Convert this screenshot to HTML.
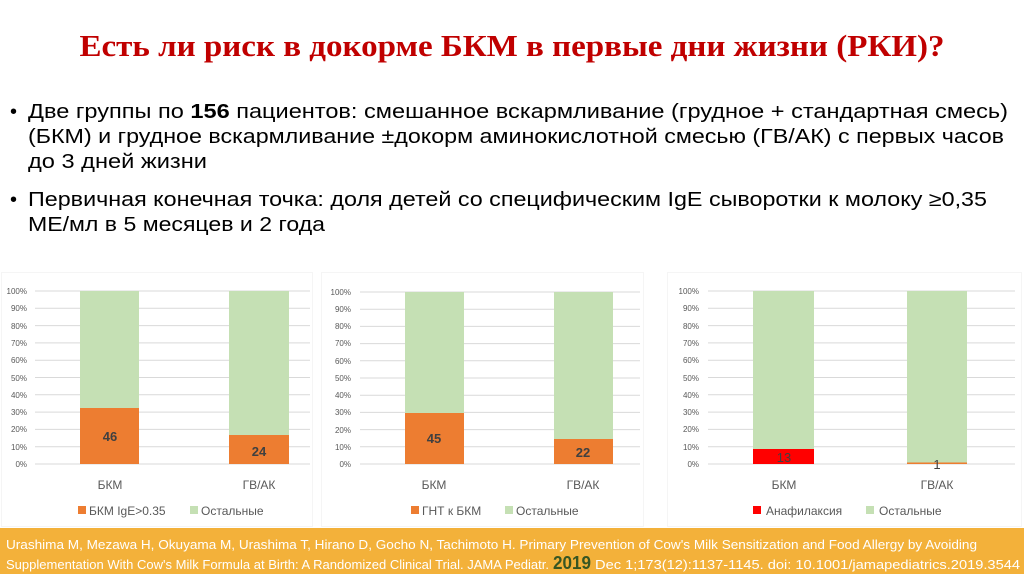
<!DOCTYPE html>
<html><head><meta charset="utf-8"><style>
html,body{margin:0;padding:0;background:#fff;width:1024px;height:574px;overflow:hidden}
svg{display:block}
.ax{font-family:"Liberation Sans",sans-serif;font-size:8px;fill:#595959}
.cat{font-family:"Liberation Sans",sans-serif;font-size:12px;fill:#595959}
.leg{font-family:"Liberation Sans",sans-serif;font-size:12px;fill:#595959}
.val{font-family:"Liberation Sans",sans-serif;font-size:13px;font-weight:bold;fill:#404040}
.body{font-family:"Liberation Sans",sans-serif;font-size:20px;fill:#000}
.ft{font-family:"Liberation Sans Narrow","Liberation Sans",sans-serif;font-size:13px;fill:#fff}
</style></head><body>
<svg width="1024" height="574" viewBox="0 0 1024 574" xmlns="http://www.w3.org/2000/svg">
<text x="512" y="56" text-anchor="middle" textLength="865" lengthAdjust="spacingAndGlyphs" font-family="Liberation Serif,serif" font-size="31" font-weight="bold" fill="#c00000">Есть ли риск в докорме БКМ в первые дни жизни (РКИ)?</text>
<g class="body">
<text x="10" y="118">•</text><text x="28" y="118" textLength="980" lengthAdjust="spacingAndGlyphs">Две группы по <tspan font-weight="bold">156</tspan> пациентов: смешанное вскармливание (грудное + стандартная смесь)</text>
<text x="28" y="143" textLength="976" lengthAdjust="spacingAndGlyphs">(БКМ) и грудное вскармливание ±докорм аминокислотной смесью (ГВ/АК) с первых часов</text>
<text x="28" y="168" textLength="179" lengthAdjust="spacingAndGlyphs">до 3 дней жизни</text>
<text x="10" y="206">•</text><text x="28" y="206" textLength="959" lengthAdjust="spacingAndGlyphs">Первичная конечная точка: доля детей со специфическим IgE сыворотки к молоку ≥0,35</text>
<text x="28" y="231" textLength="297" lengthAdjust="spacingAndGlyphs">МЕ/мл в 5 месяцев и 2 года</text>
</g>
<rect x="1.5" y="272.5" width="311" height="254" fill="none" stroke="#f5f5f5"/>
<rect x="321.5" y="272.5" width="322" height="254" fill="none" stroke="#f5f5f5"/>
<rect x="667.5" y="272.5" width="354" height="254" fill="none" stroke="#f5f5f5"/>
<!-- Chart 1 -->
<g stroke="#d9d9d9" stroke-width="1">
<line x1="35" x2="310" y1="291" y2="291"/><line x1="35" x2="310" y1="308.3" y2="308.3"/><line x1="35" x2="310" y1="325.6" y2="325.6"/><line x1="35" x2="310" y1="342.9" y2="342.9"/><line x1="35" x2="310" y1="360.2" y2="360.2"/><line x1="35" x2="310" y1="377.5" y2="377.5"/><line x1="35" x2="310" y1="394.8" y2="394.8"/><line x1="35" x2="310" y1="412.1" y2="412.1"/><line x1="35" x2="310" y1="429.4" y2="429.4"/><line x1="35" x2="310" y1="446.7" y2="446.7"/><line x1="35" x2="310" y1="464" y2="464"/>
</g>
<g class="ax" text-anchor="end">
<text x="27" y="294">100%</text><text x="27" y="311">90%</text><text x="27" y="329">80%</text><text x="27" y="346">70%</text><text x="27" y="363">60%</text><text x="27" y="381">50%</text><text x="27" y="398">40%</text><text x="27" y="415">30%</text><text x="27" y="432">20%</text><text x="27" y="450">10%</text><text x="27" y="467">0%</text>
</g>
<rect x="80" y="291" width="59" height="117" fill="#c5e0b4"/><rect x="80" y="408" width="59" height="56" fill="#ed7d31"/>
<rect x="229" y="291" width="60" height="144" fill="#c5e0b4"/><rect x="229" y="435" width="60" height="29" fill="#ed7d31"/>
<text class="val" x="110" y="441" text-anchor="middle">46</text>
<text class="val" x="259" y="456" text-anchor="middle">24</text>
<text class="cat" x="110" y="489" text-anchor="middle">БКМ</text>
<text class="cat" x="259" y="489" text-anchor="middle">ГВ/АК</text>
<rect x="78" y="506" width="8" height="8" fill="#ed7d31"/><text class="leg" x="89" y="515">БКМ IgE&gt;0.35</text>
<rect x="190" y="506" width="8" height="8" fill="#c5e0b4"/><text class="leg" x="201" y="515">Остальные</text>
<!-- Chart 2 -->
<g stroke="#d9d9d9" stroke-width="1">
<line x1="360" x2="640" y1="292" y2="292"/><line x1="360" x2="640" y1="309.2" y2="309.2"/><line x1="360" x2="640" y1="326.4" y2="326.4"/><line x1="360" x2="640" y1="343.6" y2="343.6"/><line x1="360" x2="640" y1="360.8" y2="360.8"/><line x1="360" x2="640" y1="378" y2="378"/><line x1="360" x2="640" y1="395.2" y2="395.2"/><line x1="360" x2="640" y1="412.4" y2="412.4"/><line x1="360" x2="640" y1="429.6" y2="429.6"/><line x1="360" x2="640" y1="446.8" y2="446.8"/><line x1="360" x2="640" y1="464" y2="464"/>
</g>
<g class="ax" text-anchor="end">
<text x="351" y="295">100%</text><text x="351" y="312">90%</text><text x="351" y="329">80%</text><text x="351" y="346">70%</text><text x="351" y="364">60%</text><text x="351" y="381">50%</text><text x="351" y="398">40%</text><text x="351" y="415">30%</text><text x="351" y="433">20%</text><text x="351" y="450">10%</text><text x="351" y="467">0%</text>
</g>
<rect x="405" y="292" width="59" height="121" fill="#c5e0b4"/><rect x="405" y="413" width="59" height="51" fill="#ed7d31"/>
<rect x="554" y="292" width="59" height="147" fill="#c5e0b4"/><rect x="554" y="439" width="59" height="25" fill="#ed7d31"/>
<text class="val" x="434" y="443" text-anchor="middle">45</text>
<text class="val" x="583" y="457" text-anchor="middle">22</text>
<text class="cat" x="434" y="489" text-anchor="middle">БКМ</text>
<text class="cat" x="583" y="489" text-anchor="middle">ГВ/АК</text>
<rect x="411" y="506" width="8" height="8" fill="#ed7d31"/><text class="leg" x="422" y="515">ГНТ к БКМ</text>
<rect x="505" y="506" width="8" height="8" fill="#c5e0b4"/><text class="leg" x="516" y="515">Остальные</text>
<!-- Chart 3 -->
<g stroke="#d9d9d9" stroke-width="1">
<line x1="708" x2="1015" y1="291" y2="291"/><line x1="708" x2="1015" y1="308.3" y2="308.3"/><line x1="708" x2="1015" y1="325.6" y2="325.6"/><line x1="708" x2="1015" y1="342.9" y2="342.9"/><line x1="708" x2="1015" y1="360.2" y2="360.2"/><line x1="708" x2="1015" y1="377.5" y2="377.5"/><line x1="708" x2="1015" y1="394.8" y2="394.8"/><line x1="708" x2="1015" y1="412.1" y2="412.1"/><line x1="708" x2="1015" y1="429.4" y2="429.4"/><line x1="708" x2="1015" y1="446.7" y2="446.7"/><line x1="708" x2="1015" y1="464" y2="464"/>
</g>
<g class="ax" text-anchor="end">
<text x="699" y="294">100%</text><text x="699" y="311">90%</text><text x="699" y="329">80%</text><text x="699" y="346">70%</text><text x="699" y="363">60%</text><text x="699" y="381">50%</text><text x="699" y="398">40%</text><text x="699" y="415">30%</text><text x="699" y="432">20%</text><text x="699" y="450">10%</text><text x="699" y="467">0%</text>
</g>
<rect x="753" y="291" width="61" height="158" fill="#c5e0b4"/><rect x="753" y="449" width="61" height="15" fill="#ff0000"/>
<rect x="907" y="291" width="60" height="171.5" fill="#c5e0b4"/><rect x="907" y="462.5" width="60" height="1.5" fill="#ed7d31"/>
<text class="val" x="784" y="462" text-anchor="middle" style="font-weight:normal">13</text>
<text class="val" x="937" y="469" text-anchor="middle" style="font-weight:normal">1</text>
<text class="cat" x="784" y="489" text-anchor="middle">БКМ</text>
<text class="cat" x="937" y="489" text-anchor="middle">ГВ/АК</text>
<rect x="753" y="506" width="8" height="8" fill="#ff0000"/><text class="leg" x="766" y="515">Анафилаксия</text>
<rect x="866" y="506" width="8" height="8" fill="#c5e0b4"/><text class="leg" x="879" y="515">Остальные</text>
<!-- footer -->
<rect x="0" y="528" width="1024" height="46" fill="#f3b13a"/>
<text class="ft" x="6" y="549" textLength="971" lengthAdjust="spacingAndGlyphs">Urashima M, Mezawa H, Okuyama M, Urashima T, Hirano D, Gocho N, Tachimoto H. Primary Prevention of Cow's Milk Sensitization and Food Allergy by Avoiding</text>
<text class="ft" x="6" y="569" textLength="543" lengthAdjust="spacingAndGlyphs">Supplementation With Cow's Milk Formula at Birth: A Randomized Clinical Trial. JAMA Pediatr.</text>
<text x="553" y="569" font-family="Liberation Sans Narrow,Liberation Sans,sans-serif" font-size="18" font-weight="bold" fill="#375623" textLength="38" lengthAdjust="spacingAndGlyphs">2019</text>
<text class="ft" x="595" y="569" textLength="425" lengthAdjust="spacingAndGlyphs">Dec 1;173(12):1137-1145. doi: 10.1001/jamapediatrics.2019.3544</text>
</svg>
</body></html>
